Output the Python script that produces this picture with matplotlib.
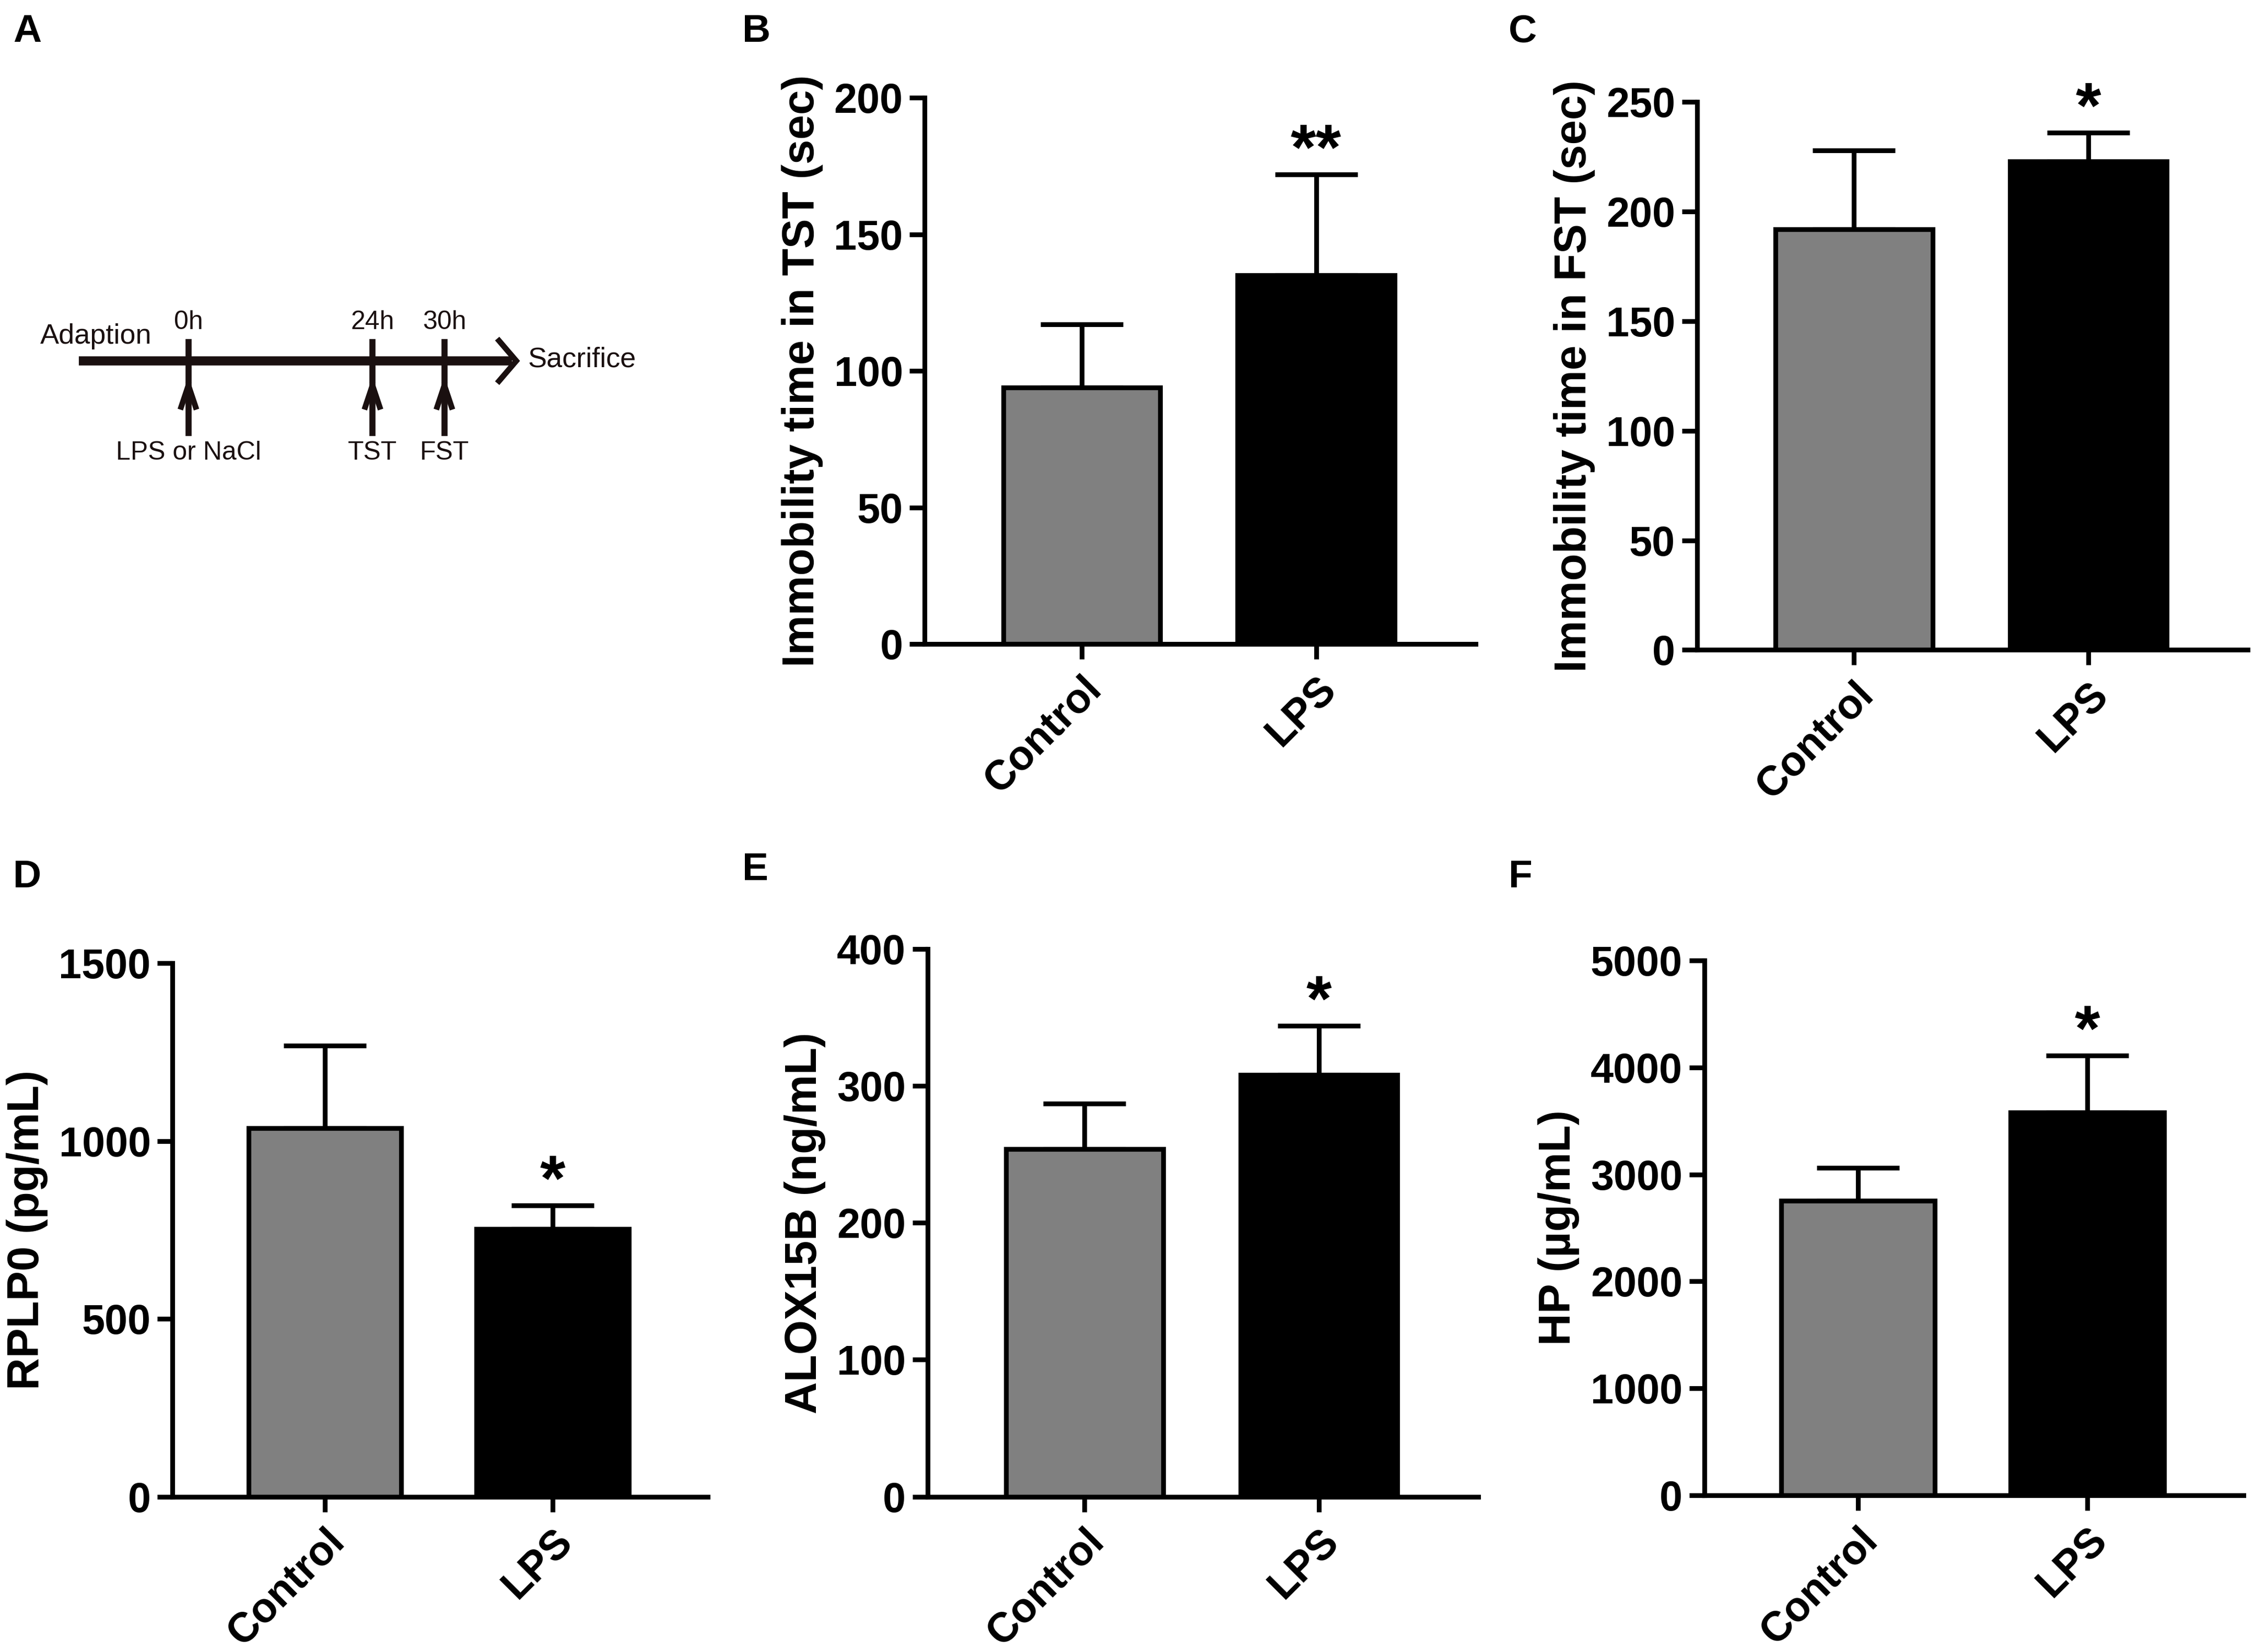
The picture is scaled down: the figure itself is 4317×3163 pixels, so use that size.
import numpy as np
import matplotlib.pyplot as plt

plt.rcParams['font.family'] = ['Liberation Sans', 'DejaVu Sans']

# bar panels: means, upper error (mean + SEM), axis limits, ticks
groups = ["Control", "LPS"]
bar_colors = ["#808080", "#000000"]

tst_mean = [94, 135]
tst_top = [117, 172]
fst_mean = [192, 223]
fst_top = [228, 236]
rplp0_mean = [1036, 753]
rplp0_top = [1268, 819]
alox_mean = [254, 308]
alox_top = [287, 344]
hp_mean = [2755, 3580]
hp_top = [3060, 4110]

panels = [
    ("B", tst_mean, tst_top, "Immobility time in TST (sec)", [0, 50, 100, 150, 200], ["", "**"]),
    ("C", fst_mean, fst_top, "Immobility time in FST (sec)", [0, 50, 100, 150, 200, 250], ["", "*"]),
    ("D", rplp0_mean, rplp0_top, "RPLP0 (pg/mL)", [0, 500, 1000, 1500], ["", "*"]),
    ("E", alox_mean, alox_top, "ALOX15B (ng/mL)", [0, 100, 200, 300, 400], ["", "*"]),
    ("F", hp_mean, hp_top, "HP (\u00b5g/mL)", [0, 1000, 2000, 3000, 4000, 5000], ["", "*"]),
]

# panel A timeline (schematic positions)
tl_names = ["0h", "24h", "30h"]
tl_events = ["LPS or NaCl", "TST", "FST"]
tl_pos = [131, 259, 309]

W, H = 1568, 1149
fig = plt.figure(figsize=(4317 / 300, 3163 / 300), dpi=300)

# axes rectangles in reference pixel units: left, top, right, bottom
rects = {
    "B": (643, 68, 1026, 448),
    "C": (1180, 71, 1563, 452),
    "D": (120, 670, 492, 1041),
    "E": (645, 660, 1028, 1041),
    "F": (1185, 668, 1560, 1040),
}
letters = {"A": (9, 22), "B": (516, 22), "C": (1049, 22),
           "D": (9, 610), "E": (516, 605), "F": (1049, 610)}

lw = 2.2
fs = 19
for name, mean, top, ylabel, ticks, stars in panels:
    l, t, r, b = rects[name]
    ax = fig.add_axes([l / W, 1 - b / H, (r - l) / W, (b - t) / H])
    x = np.arange(len(groups))
    ax.bar(x, mean, width=0.67, color=bar_colors, edgecolor="black", linewidth=lw, zorder=3)
    up = np.array(top) - np.array(mean)
    ax.errorbar(x, mean, yerr=[np.zeros(len(x)), up], fmt="none", ecolor="black",
                elinewidth=lw, capsize=19, capthick=lw, zorder=2)
    for xi, yt, s in zip(x, top, stars):
        if s:
            ax.annotate(s, (xi, yt), xytext=(0, -4), textcoords="offset points",
                        ha="center", va="bottom", fontsize=30, fontweight="bold")
    ax.set_xlim(-0.67, 1.68)
    ax.set_ylim(ticks[0], ticks[-1])
    ax.set_yticks(ticks)
    ax.set_xticks(x)
    ax.set_xticklabels(groups, rotation=45, ha="right", rotation_mode="anchor")
    for lab in ax.get_xticklabels() + ax.get_yticklabels():
        lab.set_fontweight("bold")
        lab.set_fontsize(fs)
    ax.set_ylabel(ylabel, fontsize=20.5, fontweight="bold", labelpad=5)
    for side in ["top", "right"]:
        ax.spines[side].set_visible(False)
    for side in ["left", "bottom"]:
        ax.spines[side].set_linewidth(lw)
    ax.tick_params(axis="both", width=lw, length=7, pad=3)
    ax.tick_params(axis="x", pad=4.5)
    ax.spines["left"].set_zorder(5)
    ax.spines["bottom"].set_zorder(5)

for k, (lx, ly) in letters.items():
    fig.text(lx / W, 1 - ly / H, k, fontsize=18, fontweight="bold", ha="left", va="center")

# panel A
axa = fig.add_axes([0, 1 - 360 / H, 470 / W, 180 / H])
axa.set_xlim(0, 470)
axa.set_ylim(360, 180)
axa.axis("off")
tc = "#1a1010"
narrow = ["Liberation Sans Narrow", "Liberation Sans"]
axa.plot([55, 356], [251, 251], color=tc, lw=4.2, solid_capstyle="butt")
axa.plot([347, 359, 347], [237, 251, 265], color=tc, lw=2.6, solid_joinstyle="miter")
for p, nm, ev in zip(tl_pos, tl_names, tl_events):
    axa.plot([p, p], [238, 264], color=tc, lw=2.8)
    axa.plot([p, p], [301, 268], color=tc, lw=2.8)
    axa.plot([p - 5, p, p + 5], [283, 268, 283], color=tc, lw=2.6, solid_joinstyle="miter")
    axa.text(p, 224, nm, ha="center", va="center", fontsize=12, family=narrow, color=tc)
    axa.text(p, 315, ev, ha="center", va="center", fontsize=12, family=narrow, color=tc)
axa.text(28, 234, "Adaption", ha="left", va="center", fontsize=13, family=narrow, color=tc)
axa.text(367, 250, "Sacrifice", ha="left", va="center", fontsize=13, family=narrow, color=tc)

fig.savefig("out.png", dpi=300)
